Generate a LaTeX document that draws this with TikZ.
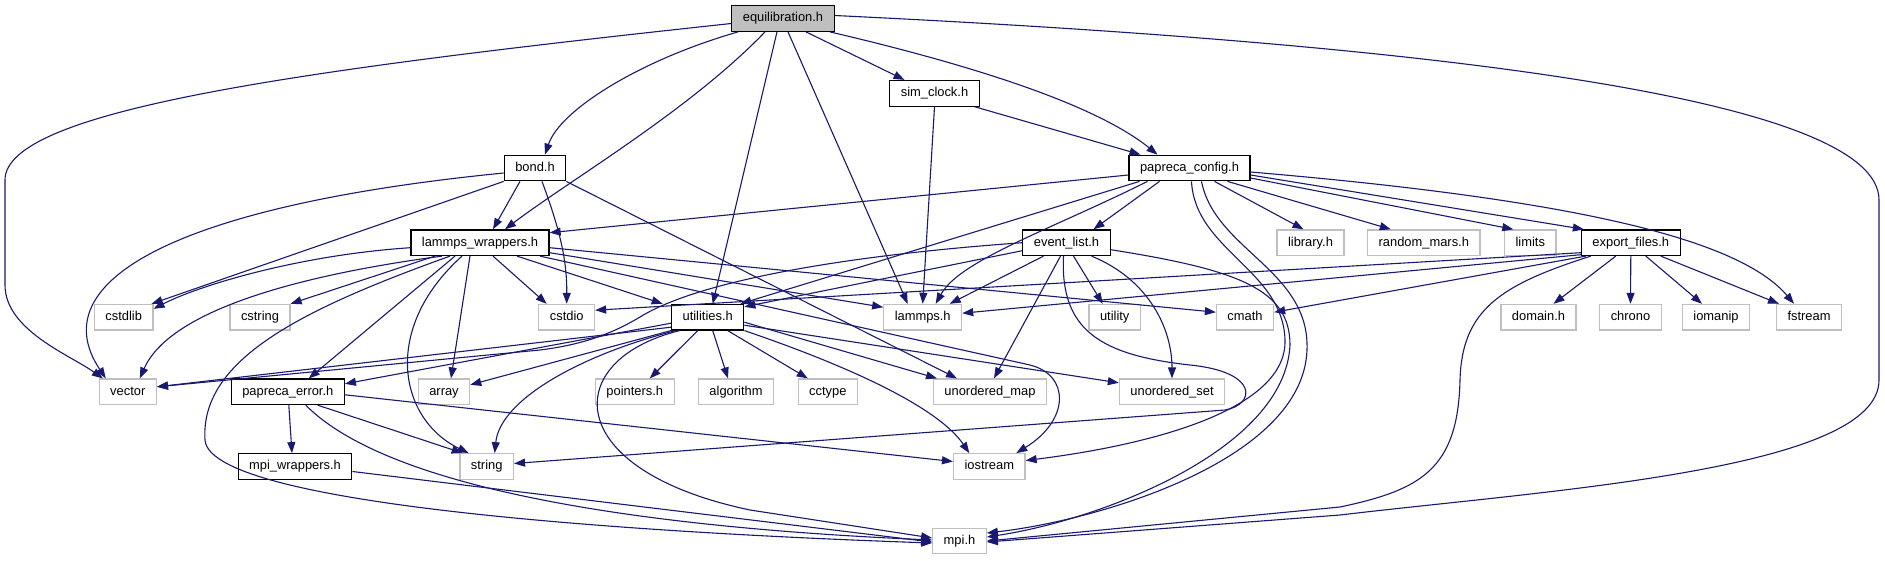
\documentclass[tikz,border=0pt]{standalone}
\usepackage{fontspec}
\setmainfont{Liberation Sans}
\usetikzlibrary{arrows.meta}
\definecolor{edgeblue}{HTML}{191970}
\definecolor{gray75}{HTML}{BFBFBF}
\tikzset{
  base/.style={rectangle, font=\fontsize{12.9}{15}\selectfont, text height=9.4pt, text depth=2.7pt,
    inner xsep=11pt, inner ysep=0pt, minimum height=25.6pt, line width=1.2pt, fill=white},
  doc/.style={base, draw=black},
  ext/.style={base, draw=gray75},
  root/.style={base, draw=black, fill=gray75},
  dep/.style={draw=edgeblue, line width=1.1pt, -{Triangle[length=11pt,width=8pt]}},
}
\begin{document}
\begin{tikzpicture}[x=1pt,y=-1pt]
\fill[white] (0,0) rectangle (1885,560);
\useasboundingbox (0,0) rectangle (1885,560);
% nodes
\node[root] (eq) at (783,18.5) {equilibration.h};
\node[doc] (sim) at (934.5,93.3) {sim\_clock.h};
\node[doc] (bond) at (535,168) {bond.h};
\node[doc] (pc) at (1189.5,168) {papreca\_config.h};
\node[doc] (lw) at (480,242.7) {lammps\_wrappers.h};
\node[doc] (el) at (1066.5,242.7) {event\_list.h};
\node[ext] (lib) at (1310.5,242.7) {library.h};
\node[ext] (rm) at (1423.8,242.7) {random\_mars.h};
\node[ext] (lim) at (1530.3,242.7) {limits};
\node[doc] (ef) at (1630.8,242.7) {export\_files.h};
\node[ext] (cstdlib) at (123.7,317.2) {cstdlib};
\node[ext] (cstring) at (260,317.2) {cstring};
\node[ext] (cstdio) at (566.7,317.2) {cstdio};
\node[doc] (ut) at (707.7,317.2) {utilities.h};
\node[ext] (lh) at (922.7,317.2) {lammps.h};
\node[ext] (utility) at (1114.7,317.2) {utility};
\node[ext] (cmath) at (1245,317.2) {cmath};
\node[ext] (domain) at (1538.5,317.2) {domain.h};
\node[ext] (chrono) at (1630.5,317.2) {chrono};
\node[ext] (iomanip) at (1716,317.2) {iomanip};
\node[ext] (fstream) at (1809,317.2) {fstream};
\node[ext] (vector) at (127.8,391.8) {vector};
\node[doc] (pe) at (287.8,391.8) {papreca\_error.h};
\node[ext] (array) at (444,391.8) {array};
\node[ext] (pointers) at (634.8,391.8) {pointers.h};
\node[ext] (algorithm) at (736,391.8) {algorithm};
\node[ext] (cctype) at (827.8,391.8) {cctype};
\node[ext] (umap) at (990,391.8) {unordered\_map};
\node[ext] (uset) at (1172,391.8) {unordered\_set};
\node[doc] (mw) at (295,466.5) {mpi\_wrappers.h};
\node[ext] (string) at (486.7,466.5) {string};
\node[ext] (iostream) at (989.3,466.5) {iostream};
\node[ext] (mpi) at (959.5,541) {mpi.h};
% equilibration.h
\draw[dep] ([yshift=-5pt]eq.west) .. controls (300,70) and (5,110) .. (5,180) -- (5,285) .. controls (5,330) and (70,355) .. ([xshift=-25pt]vector.north);
\draw[dep] ([xshift=-45pt]eq.south) .. controls (640,60) and (560,110) .. ([xshift=10pt]bond.north);
\draw[dep] ([xshift=-18pt]eq.south) .. controls (690,110) and (570,180) .. ([xshift=25pt]lw.north);
\draw[dep] ([xshift=-6pt]eq.south) -- ([xshift=5pt]ut.north);
\draw[dep] ([xshift=5pt]eq.south) -- ([xshift=-15pt]lh.north);
\draw[dep] ([xshift=23pt]eq.south) -- ([xshift=-30pt]sim.north);
\draw[dep] ([xshift=47pt]eq.south) .. controls (950,60) and (1090,100) .. ([xshift=-32pt]pc.north);
\draw[dep] ([yshift=3pt]eq.east) .. controls (1450,45) and (1879,100) .. (1879,200) -- (1879,380) .. controls (1879,470) and (1550,490) .. (1340,515) -- ([yshift=-1pt]mpi.east);
% sim_clock.h
\draw[dep] ([xshift=40pt]sim.south) -- ([xshift=-49pt]pc.north);
\draw[dep] (sim.south) -- (lh.north);
% bond.h
\draw[dep] ([yshift=-5pt]bond.west) .. controls (180,205) and (40,280) .. ([xshift=-22pt]vector.north);
\draw[dep] (bond.south west) -- ([xshift=-2pt]cstdlib.north east);
\draw[dep] ([xshift=-15pt]bond.south) -- ([xshift=13pt]lw.north);
\draw[dep] ([xshift=7pt]bond.south) .. controls (560,230) and (567,260) .. (cstdio.north);
\draw[dep] (bond.south east) -- ([xshift=-33pt]umap.north);
% papreca_config.h
\draw[dep] ([yshift=-7pt]pc.west) -- ([yshift=10pt]lw.east);
\draw[dep] ([xshift=-50pt]pc.south) -- ([xshift=-4pt]ut.north east);
\draw[dep] ([xshift=-42pt]pc.south) .. controls (1050,230) and (960,260) .. ([xshift=13pt]lh.north);
\draw[dep] ([xshift=-30pt]pc.south) -- ([xshift=27pt]el.north);
\draw[dep] ([xshift=25pt]pc.south) -- ([xshift=-7pt]lib.north);
\draw[dep] ([xshift=38pt]pc.south) -- ([xshift=-33pt]rm.north);
\draw[dep] ([yshift=-10pt]pc.east) -- ([xshift=-17pt]lim.north);
\draw[dep] ([yshift=-7pt]pc.east) -- ([xshift=3pt]ef.north west);
\draw[dep] ([yshift=-4pt]pc.east) .. controls (1580,200) and (1740,240) .. ([xshift=-15pt]fstream.north);
\draw[dep] ([xshift=2pt]pc.south) .. controls (1195,250) and (1283,270) .. (1285,340) .. controls (1287,410) and (1150,445) .. ([yshift=6pt]iostream.east);
\draw[dep] ([xshift=12pt]pc.south) .. controls (1215,250) and (1310,270) .. (1307,350) .. controls (1303,460) and (1100,520) .. ([yshift=8pt]mpi.east);
% lammps_wrappers.h
\draw[dep] ([yshift=-5pt]lw.west) .. controls (300,255) and (200,285) .. ([yshift=-5pt]cstdlib.north east);
\draw[dep] ([xshift=-45pt]lw.south) -- (cstring.north east);
\draw[dep] ([xshift=-38pt]lw.south) .. controls (300,275) and (170,310) .. ([xshift=12pt]vector.north);
\draw[dep] ([xshift=13pt]lw.south) -- ([xshift=-20pt]cstdio.north);
\draw[dep] ([xshift=37pt]lw.south) -- ([xshift=-45pt]ut.north);
\draw[dep] ([yshift=-10pt]lw.east) -- ([yshift=10pt]lh.west);
\draw[dep] ([yshift=-5pt]lw.east) -- ([yshift=5pt]cmath.west);
\draw[dep] ([xshift=60pt]lw.south) -- (1030,365) .. controls (1070,375) and (1070,420) .. ([xshift=27pt]iostream.north);
\draw[dep] ([xshift=-25pt]lw.south) -- ([xshift=21pt]pe.north);
\draw[dep] ([xshift=-10pt]lw.south) -- ([xshift=7pt]array.north);
\draw[dep] ([xshift=-18pt]lw.south) .. controls (380,330) and (400,420) .. ([xshift=-18pt]string.north);
\draw[dep] ([xshift=-30pt]lw.south) .. controls (300,310) and (200,360) .. (205,440) .. controls (210,510) and (700,535) .. ([yshift=-2pt]mpi.west);
% utilities.h
\draw[dep] ([yshift=-10pt]ut.west) -- ([yshift=5pt]vector.east);
\draw[dep] ([yshift=-6pt]ut.west) -- ([yshift=8pt]pe.east);
\draw[dep] (ut.south west) -- ([yshift=7pt]array.east);
\draw[dep] ([xshift=-32pt]ut.south) .. controls (580,355) and (500,400) .. ([xshift=8pt]string.north);
\draw[dep] ([xshift=-28pt]ut.south) .. controls (560,360) and (560,470) .. (750,510) -- ([yshift=3pt]mpi.west);
\draw[dep] ([xshift=-10pt]ut.south) -- ([xshift=15pt]pointers.north);
\draw[dep] ([xshift=5pt]ut.south) -- ([xshift=-8pt]algorithm.north);
\draw[dep] ([xshift=20pt]ut.south) -- ([xshift=-20pt]cctype.north);
\draw[dep] ([yshift=-5pt]ut.east) -- ([xshift=-53pt]umap.north);
\draw[dep] ([yshift=-8pt]ut.east) -- ([yshift=9pt]uset.west);
\draw[dep] (ut.south east) .. controls (860,370) and (940,410) .. ([xshift=-20pt]iostream.north);
% papreca_error.h
\draw[dep] ([xshift=1pt]pe.south) -- ([xshift=-3pt]mw.north);
\draw[dep] ([xshift=30pt]pe.south) -- ([xshift=-24pt]string.north);
\draw[dep] ([xshift=18pt]pe.south) .. controls (400,500) and (700,530) .. ([yshift=1pt]mpi.west);
\draw[dep] ([yshift=-3pt]pe.east) -- ([yshift=5pt]iostream.west);
% mpi_wrappers.h
\draw[dep] ([yshift=-5pt]mw.east) -- ([yshift=-1pt]mpi.west);
% event_list.h
\draw[dep] (el.west) .. controls (850,255) and (700,280) .. (640,317) .. controls (610,335) and (580,345) .. (540,350) -- ([yshift=5pt]vector.east);
\draw[dep] ([yshift=-8pt]el.west) -- ([yshift=-3pt]ut.north east);
\draw[dep] ([xshift=-23pt]el.south) -- ([xshift=27pt]lh.north);
\draw[dep] ([xshift=-6pt]el.south) -- ([xshift=4pt]umap.north);
\draw[dep] ([xshift=7pt]el.south) -- ([xshift=-12pt]utility.north);
\draw[dep] ([xshift=25pt]el.south) .. controls (1150,280) and (1172,330) .. (uset.north);
\draw[dep] ([xshift=-3pt]el.south) .. controls (1060,330) and (1100,355) .. (1190,365) .. controls (1260,372) and (1255,405) .. (1225,410) -- ([yshift=3pt]string.east);
\draw[dep] ([yshift=-7pt]el.east) .. controls (1240,270) and (1290,290) .. (1290,345) .. controls (1285,450) and (1100,520) .. ([yshift=4pt]mpi.east);
% export_files.h
\draw[dep] ([yshift=-10pt]ef.west) -- ([yshift=7pt]cstdio.east);
\draw[dep] ([yshift=-12pt]ef.west) -- ([yshift=4pt]lh.east);
\draw[dep] ([xshift=-45pt]ef.south) -- ([yshift=5pt]cmath.east);
\draw[dep] ([xshift=-40pt]ef.south) .. controls (1500,285) and (1462,310) .. (1460,380) .. controls (1458,470) and (1420,490) .. (1340,507) -- (mpi.east);
\draw[dep] ([xshift=-15pt]ef.south) -- ([xshift=15pt]domain.north);
\draw[dep] (ef.south) -- (chrono.north);
\draw[dep] ([xshift=15pt]ef.south) -- ([xshift=-14pt]iomanip.north);
\draw[dep] ([xshift=30pt]ef.south) -- ([xshift=-30pt]fstream.north);
\end{tikzpicture}
\end{document}
